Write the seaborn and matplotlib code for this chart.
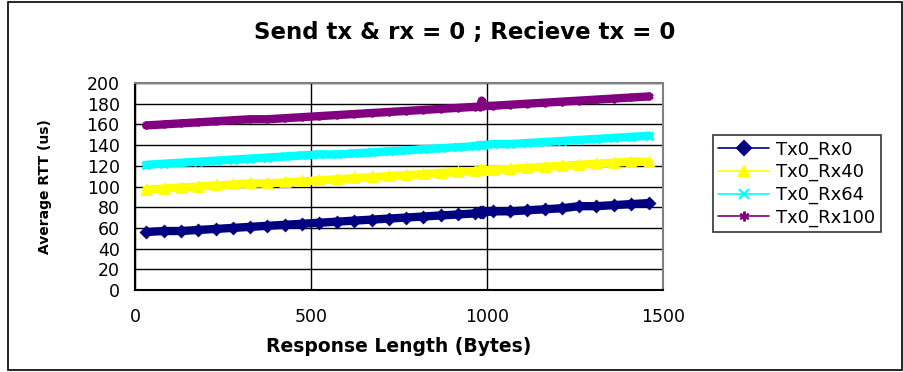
import numpy as np
import pandas as pd
import matplotlib
matplotlib.use("Agg")
import matplotlib.pyplot as plt
import seaborn as sns
from matplotlib.lines import Line2D
from matplotlib.patches import Rectangle

# values
resp_len = [32, 81, 130, 180, 229, 278, 327, 376, 426, 475, 524, 573, 622, 672, 721,
            770, 819, 868, 918, 967, 980, 985, 990, 1016, 1065, 1114, 1164, 1213, 1262,
            1311, 1360, 1410, 1460]
rx0 = [56, 57, 57, 58, 59, 60, 61, 62, 63, 64, 65, 66, 67, 68, 69,
       70, 71, 72, 73, 74, 75, 75, 75, 76, 76, 77, 78, 79, 81,
       81, 82, 83, 84]
rx40 = [97, 98, 99, 100, 101, 102, 103, 103, 104, 105, 106, 107, 108, 109, 110,
        111, 112, 113, 114, 115, 116, 116, 116, 116, 117, 118, 119, 120, 121,
        122, 123, 124, 124]
rx64 = [121, 122, 123, 124, 125, 126, 127, 128, 129, 130, 131, 131, 132, 133, 134,
        135, 136, 137, 138, 139, 140, 140, 140, 141, 141, 142, 143, 144, 145,
        146, 147, 148, 149]
rx100 = [159, 160, 161, 162, 163, 164, 165, 165, 166, 167, 168, 169, 170, 171, 172,
         173, 174, 175, 176, 177, 177, 183, 178, 178, 179, 180, 181, 182, 183,
         184, 185, 186, 187]

series_names = ["Tx0_Rx0", "Tx0_Rx40", "Tx0_Rx64", "Tx0_Rx100"]
colors = ["#000080", "#FFFF00", "#00FFFF", "#800080"]
markers = ["D", "^", "x", (6, 2, 0)]

sns.set_style("white")
plt.rcParams["font.family"] = ["DejaVu Sans"]
plt.rcParams["text.color"] = "black"
plt.rcParams["axes.labelcolor"] = "black"

fig = plt.figure(figsize=(9.04, 3.72), dpi=100)
fig.patches.append(Rectangle((8 / 904, 2 / 372), 894 / 904, 368 / 372, transform=fig.transFigure,
                             fill=False, edgecolor="black", lw=1.2))
ax = fig.add_axes([135 / 904, 1 - 290 / 372, 528 / 904, 207 / 372])

for name, vals, c, m in zip(series_names, [rx0, rx40, rx64, rx100], colors, markers):
    df = pd.DataFrame({"x": resp_len, "y": vals})
    sns.lineplot(data=df, x="x", y="y", ax=ax, color=c, lw=6, marker=m, markersize=5.5,
                 markeredgecolor=c, markeredgewidth=2, legend=False, zorder=3)

ax.set_xlim(0, 1500)
ax.set_ylim(0, 200)
ax.set_xticks([0, 500, 1000, 1500])
ax.set_yticks(range(0, 201, 20))
ax.grid(True, color="black", lw=1)
ax.set_axisbelow(True)
for s in ["top", "right"]:
    ax.spines[s].set_color("#808080")
    ax.spines[s].set_linewidth(1.5)
for s in ["left", "bottom"]:
    ax.spines[s].set_color("black")
    ax.spines[s].set_linewidth(1.5)
ax.tick_params(axis="both", direction="out", length=6, width=1.2, colors="black", labelsize=12.5)
ax.tick_params(axis="x", pad=7)
ax.tick_params(axis="y", pad=5)

ax.set_xlabel("Response Length (Bytes)", fontsize=13.5, fontweight="bold", labelpad=8)
ax.set_ylabel("Average RTT (us)", fontsize=10, fontweight="bold")
ax.yaxis.set_label_coords(-83 / 528, 0.5)
fig.text(465 / 904, 1 - 33 / 372, "Send tx & rx = 0 ; Recieve tx = 0", fontsize=16.5,
         fontweight="bold", ha="center", va="center")

handles = [Line2D([0], [0], color=c, lw=1.2, marker=m, markersize=7, markeredgecolor=c,
                  markeredgewidth=1.5) for c, m in zip(colors, markers)]
leg = fig.legend(handles, series_names, loc="upper left", bbox_to_anchor=(713 / 904, 1 - 135 / 372),
                 frameon=True, fancybox=False, fontsize=13, handlelength=2.8, labelspacing=0.25,
                 borderpad=0.3, handletextpad=0.4, borderaxespad=0)
leg.get_frame().set_edgecolor("black")
leg.get_frame().set_linewidth(1.2)

fig.savefig("out.png", dpi=100)
